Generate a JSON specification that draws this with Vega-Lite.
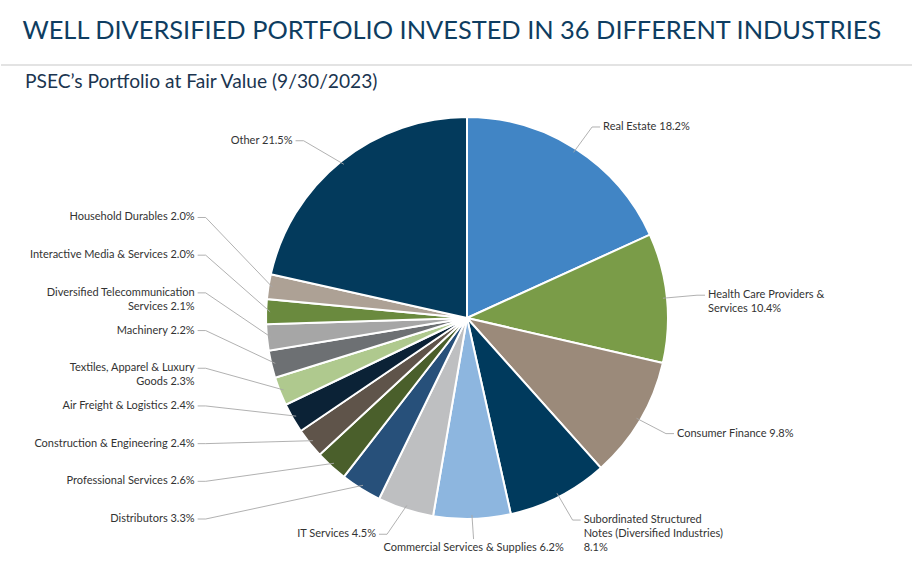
{
  "$schema": "https://vega.github.io/schema/vega-lite/v6.json",
  "padding": {"top": 18, "bottom": 0, "left": 0, "right": 0},
  "spacing": 6,
  "config": {
    "view": {"stroke": null},
    "font": "Lato",
    "title": {"font": "Lato", "anchor": "start", "fontWeight": "normal"}
  },
  "datasets": {
    "portfolio": [
      {"idx": 1, "name": "Real Estate", "label": "Real Estate 18.2%", "value": 18.2},
      {"idx": 2, "name": "Health Care Providers & Services", "label": "Health Care Providers &\nServices 10.4%", "value": 10.4},
      {"idx": 3, "name": "Consumer Finance", "label": "Consumer Finance 9.8%", "value": 9.8},
      {"idx": 4, "name": "Subordinated Structured Notes (Diversified Industries)", "label": "Subordinated Structured\nNotes (Diversified Industries)\n8.1%", "value": 8.1},
      {"idx": 5, "name": "Commercial Services & Supplies", "label": "Commercial Services & Supplies 6.2%", "value": 6.2},
      {"idx": 6, "name": "IT Services", "label": "IT Services 4.5%", "value": 4.5},
      {"idx": 7, "name": "Distributors", "label": "Distributors 3.3%", "value": 3.3},
      {"idx": 8, "name": "Professional Services", "label": "Professional Services 2.6%", "value": 2.6},
      {"idx": 9, "name": "Construction & Engineering", "label": "Construction & Engineering 2.4%", "value": 2.4},
      {"idx": 10, "name": "Air Freight & Logistics", "label": "Air Freight & Logistics 2.4%", "value": 2.4},
      {"idx": 11, "name": "Textiles, Apparel & Luxury Goods", "label": "Textiles, Apparel & Luxury\nGoods 2.3%", "value": 2.3},
      {"idx": 12, "name": "Machinery", "label": "Machinery 2.2%", "value": 2.2},
      {"idx": 13, "name": "Diversified Telecommunication Services", "label": "Diversified Telecommunication\nServices 2.1%", "value": 2.1},
      {"idx": 14, "name": "Interactive Media & Services", "label": "Interactive Media & Services 2.0%", "value": 2.0},
      {"idx": 15, "name": "Household Durables", "label": "Household Durables 2.0%", "value": 2.0},
      {"idx": 16, "name": "Other", "label": "Other 21.5%", "value": 21.5}
    ],
    "separator": [{"k": 0}]
  },
  "vconcat": [
    {
      "width": 912,
      "height": 1,
      "title": {"text": "WELL DIVERSIFIED PORTFOLIO INVESTED IN 36 DIFFERENT INDUSTRIES", "fontSize": 25.4, "color": "#0E3D61", "dx": 22, "offset": 20},
      "data": {"name": "separator"},
      "mark": {"type": "rule", "color": "#C8C8C8", "strokeWidth": 1.2},
      "encoding": {"y": {"field": "k", "type": "quantitative", "scale": {"domain": [0, 1]}, "axis": null}}
    },
    {
      "width": 912,
      "height": 472,
      "title": {"text": "PSEC’s Portfolio at Fair Value (9/30/2023)", "fontSize": 19.2, "color": "#1B3550", "dx": 24, "offset": 10},
      "data": {"name": "portfolio"},
      "transform": [
        {"joinaggregate": [{"op": "sum", "field": "value", "as": "total"}]},
        {"window": [{"op": "sum", "field": "value", "as": "cum"}], "sort": [{"field": "idx"}], "frame": [null, 0]},
        {"calculate": "2*PI*(datum.cum - datum.value/2)/datum.total", "as": "mid"},
        {"calculate": "sin(datum.mid)", "as": "s"},
        {"calculate": "cos(datum.mid)", "as": "c"},
        {"calculate": "datum.s < -0.4 && datum.c < 0.5 ? 'L' : (abs(datum.s) < 0.2 ? 'B' : (datum.s > 0 ? 'R' : 'W'))", "as": "side"},
        {"window": [{"op": "row_number", "as": "rk"}], "groupby": ["side"], "sort": [{"field": "idx"}]},
        {"calculate": "0.98*datum.s", "as": "x1"},
        {"calculate": "0.98*datum.c", "as": "y1"},
        {"calculate": "datum.side == 'L' ? -1.3 : (datum.side == 'R' ? 1.15*datum.s : 1.3*datum.s)", "as": "x2"},
        {"calculate": "datum.side == 'L' ? -1.0 + 0.1875*(datum.rk - 1) : (datum.side == 'B' ? 1.1*datum.c : 1.13*datum.c)", "as": "y2"},
        {"calculate": "datum.side == 'B' ? datum.x2 : datum.x2 + (datum.s > 0 ? 0.04 : -0.04)", "as": "x3"}
      ],
      "layer": [
        {
          "mark": {"type": "arc", "outerRadius": 201, "stroke": "white", "strokeWidth": 2},
          "encoding": {
            "theta": {"field": "value", "type": "quantitative", "stack": true},
            "order": {"field": "idx", "type": "quantitative"},
            "x": {"datum": 0, "type": "quantitative", "scale": {"domain": [-2.3184, 2.2189], "nice": false, "zero": false}, "axis": null},
            "y": {"datum": 0, "type": "quantitative", "scale": {"domain": [-1.2736, 1.0746], "nice": false, "zero": false}, "axis": null},
            "color": {
              "field": "name", "type": "nominal", "legend": null,
              "scale": {
                "domain": ["Real Estate", "Health Care Providers & Services", "Consumer Finance", "Subordinated Structured Notes (Diversified Industries)", "Commercial Services & Supplies", "IT Services", "Distributors", "Professional Services", "Construction & Engineering", "Air Freight & Logistics", "Textiles, Apparel & Luxury Goods", "Machinery", "Diversified Telecommunication Services", "Interactive Media & Services", "Household Durables", "Other"],
                "range": ["#4185C5", "#7A9C48", "#9B8A7A", "#003A5D", "#8DB6DF", "#BEBFC1", "#27507A", "#4A5F2B", "#5F544A", "#0B2236", "#AFC98E", "#6D7073", "#A6A6A6", "#6A8A3E", "#ADA195", "#033A5C"]
              }
            }
          }
        },
        {
          "mark": {"type": "rule", "color": "#A8A8A8", "strokeWidth": 0.9},
          "encoding": {
            "x": {"field": "x1", "type": "quantitative"},
            "y": {"field": "y1", "type": "quantitative"},
            "x2": {"field": "x2"},
            "y2": {"field": "y2"}
          }
        },
        {
          "mark": {"type": "rule", "color": "#A8A8A8", "strokeWidth": 0.9},
          "encoding": {
            "x": {"field": "x2", "type": "quantitative"},
            "y": {"field": "y2", "type": "quantitative"},
            "x2": {"field": "x3"}
          }
        },
        {
          "transform": [{"filter": "datum.side == 'R'"}],
          "mark": {"type": "text", "align": "left", "baseline": "middle", "dx": 3, "fontSize": 11, "color": "#333333", "lineBreak": "\n", "lineHeight": 14},
          "encoding": {
            "x": {"field": "x3", "type": "quantitative"},
            "y": {"field": "y2", "type": "quantitative"},
            "text": {"field": "label"}
          }
        },
        {
          "transform": [{"filter": "datum.side == 'L' || datum.side == 'W'"}],
          "mark": {"type": "text", "align": "right", "baseline": "middle", "dx": -3, "fontSize": 11, "color": "#333333", "lineBreak": "\n", "lineHeight": 14},
          "encoding": {
            "x": {"field": "x3", "type": "quantitative"},
            "y": {"field": "y2", "type": "quantitative"},
            "text": {"field": "label"}
          }
        },
        {
          "transform": [{"filter": "datum.side == 'B'"}],
          "mark": {"type": "text", "align": "center", "baseline": "top", "dy": 3, "fontSize": 11, "color": "#333333", "lineBreak": "\n", "lineHeight": 14},
          "encoding": {
            "x": {"field": "x3", "type": "quantitative"},
            "y": {"field": "y2", "type": "quantitative"},
            "text": {"field": "label"}
          }
        }
      ]
    }
  ]
}
